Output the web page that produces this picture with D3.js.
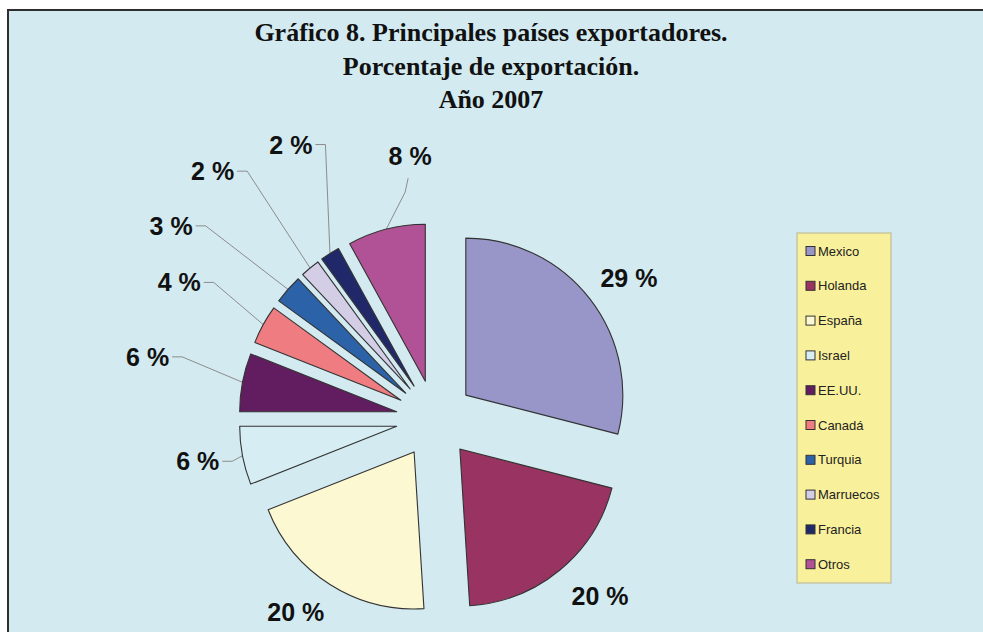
<!DOCTYPE html>
<html>
<head>
<meta charset="utf-8">
<script src="https://cdn.jsdelivr.net/npm/d3@7"></script>
<style>
  body { margin: 0; background: #ffffff; }
</style>
</head>
<body>
<div id="viz"></div>
<script>
var countries = ["Mexico", "Holanda", "España", "Israel", "EE.UU.", "Canadá", "Turquia", "Marruecos", "Francia", "Otros"];
var shares = [29, 20, 20, 6, 6, 4, 3, 2, 2, 8];
var colors = ["#9896c8", "#993462", "#fcf8d2", "#d6eef3", "#621c60", "#ee7c80", "#2b62a8", "#d3cde6", "#20286a", "#b05295"];
var titleLines = ["Gráfico 8. Principales países exportadores.", "Porcentaje de exportación.", "Año 2007"];

// label placement: distance from pie centre and angle nudge (degrees)
var labelDist = [240, 242, 238, 241, 294, 290, 327, 333, 310, 264];
var labelNudge = [1.7, -3.4, 3.4, 0.7, 1.4, -0.7, -5.2, -2.3, 4.7, 9.0];
var hasLeader = [false, false, false, true, true, true, true, true, true, true];

var width = 983, height = 632;
var cx = 435, cy = 419, radius = 157, explode = 39;

var svg = d3.select("#viz").append("svg")
    .attr("width", width)
    .attr("height", height);

// chart area
svg.append("rect")
    .attr("x", 8).attr("y", 10)
    .attr("width", width + 20).attr("height", height + 20)
    .attr("fill", "#d2eaf0")
    .attr("stroke", "#2e2e2e")
    .attr("stroke-width", 2);

// title
svg.append("g").selectAll("text")
    .data(titleLines).enter()
    .append("text")
        .attr("x", 491)
        .attr("y", function(d, i) { return 41 + i * 33.5; })
        .attr("text-anchor", "middle")
        .style("font-family", "'Liberation Serif', 'Times New Roman', serif")
        .style("font-weight", "bold")
        .style("font-size", "26px")
        .attr("fill", "#111")
        .text(function(d) { return d; });

var pie = d3.pie().sort(null).value(function(d) { return d; });
var arcs = pie(shares);
var arc = d3.arc().innerRadius(0).outerRadius(radius);

var mid = function(d) { return (d.startAngle + d.endAngle) / 2; };
var shift = function(d) {
    var a = mid(d);
    return [explode * Math.sin(a), -explode * Math.cos(a)];
};

var g = svg.append("g")
    .attr("id", "plot")
    .attr("transform", "translate(" + cx + "," + cy + ")");

g.selectAll("path.slice")
    .data(arcs).enter()
    .append("path")
        .attr("class", "slice")
        .attr("d", arc)
        .attr("transform", function(d) { var s = shift(d); return "translate(" + s[0] + "," + s[1] + ")"; })
        .attr("fill", function(d, i) { return colors[i]; })
        .attr("stroke", "#333")
        .attr("stroke-width", 1.1)
        .attr("stroke-linejoin", "round");

// data labels
var labelPos = function(d, i) {
    var a = mid(d) + labelNudge[i] * Math.PI / 180;
    return [labelDist[i] * Math.sin(a), -labelDist[i] * Math.cos(a)];
};

var labels = g.selectAll("text.lbl")
    .data(arcs).enter()
    .append("text")
        .attr("class", "lbl")
        .attr("x", function(d, i) { return labelPos(d, i)[0]; })
        .attr("y", function(d, i) { return labelPos(d, i)[1] + 9; })
        .attr("text-anchor", "middle")
        .style("font-family", "'Liberation Sans', Arial, sans-serif")
        .style("font-weight", "bold")
        .style("font-size", "25px")
        .attr("fill", "#111")
        .text(function(d) { return d.value + " %"; });

// leader lines
labels.each(function(d, i) {
    if (!hasLeader[i]) return;
    var bb = this.getBBox();
    var s = shift(d), a = mid(d);
    var px = s[0] + radius * Math.sin(a), py = s[1] - radius * Math.cos(a);
    var ly = labelPos(d, i)[1];
    var pts;
    if (bb.x + bb.width < px) {
        var x0 = bb.x + bb.width + 3;
        pts = [[x0, ly], [Math.min(x0 + 10, px), ly], [px, py]];
    } else {
        var lx = labelPos(d, i)[0] - 2;
        pts = [[lx, bb.y + bb.height + 8], [lx - 3, bb.y + bb.height + 22], [px, py]];
    }
    g.insert("path", "path.slice")
        .attr("d", d3.line()(pts))
        .attr("fill", "none")
        .attr("stroke", "#8c8c8c")
        .attr("stroke-width", 1);
});

// legend
var legend = svg.append("g").attr("transform", "translate(797,233)");
legend.append("rect")
    .attr("width", 94).attr("height", 350)
    .attr("fill", "#f9f09b")
    .attr("stroke", "#c8c6a4")
    .attr("stroke-width", 1.5);

var items = legend.selectAll("g.item")
    .data(countries).enter()
    .append("g")
        .attr("class", "item")
        .attr("transform", function(d, i) { return "translate(0," + (18 + i * 34.8) + ")"; });

items.append("rect")
    .attr("x", 9).attr("y", -4.5)
    .attr("width", 9).attr("height", 9)
    .attr("fill", function(d, i) { return colors[i]; })
    .attr("stroke", "#333")
    .attr("stroke-width", 1);

items.append("text")
    .attr("x", 21).attr("y", 4.5)
    .style("font-family", "'Liberation Sans', Arial, sans-serif")
    .style("font-size", "13px")
    .attr("fill", "#222")
    .text(function(d) { return d; });
</script>
</body>
</html>
